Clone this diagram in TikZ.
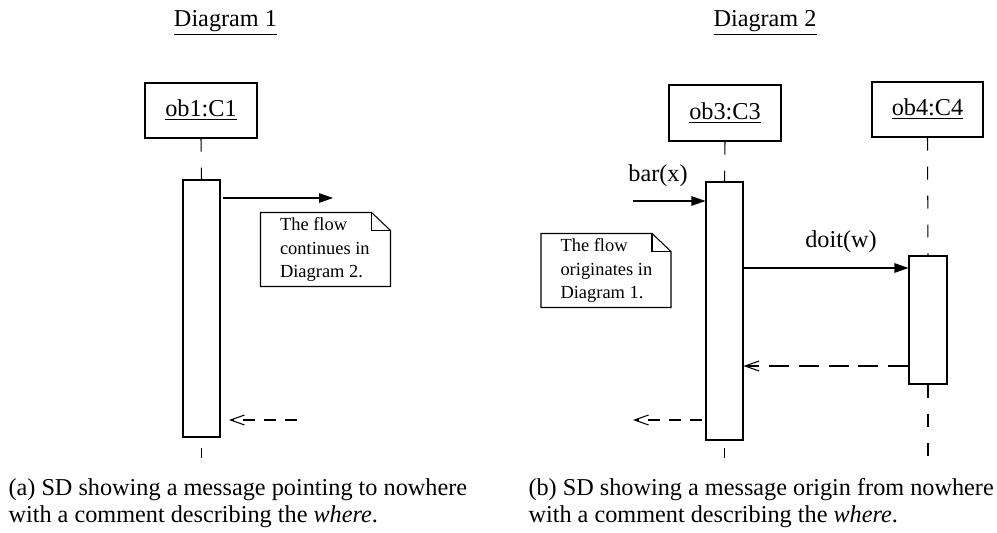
\documentclass[tikz,border=0pt]{standalone}
\usepackage{fontspec}
\setmainfont{Liberation Serif}
\usetikzlibrary{arrows.meta}

\tikzstyle{objet}=[draw, rectangle, minimum width=2.24cm, minimum height=1.1cm, inner sep=0pt]
\tikzstyle{activation}=[draw, rectangle, fill=white, minimum width=0.74cm, inner sep=0pt]
\tikzstyle{note}=[rectangle, minimum width=2.58cm, minimum height=1.46cm, inner sep=0pt]
\tikzstyle{textenote}=[anchor=west, align=left, inner sep=0pt, font=\fontsize{10.5}{13.3}\selectfont]
\tikzstyle{legende}=[anchor=base west, inner sep=0pt, font=\fontsize{13.8}{17}\selectfont]
\tikzstyle{vie}=[dash pattern=on 0.26cm off 0.32cm]
\tikzstyle{message}=[-{Triangle[length=0.28cm,width=0.19cm]}]
\tikzstyle{retour}=[-{Straight Barb[length=0.28cm,width=0.2cm]}, dash pattern=on 0.4cm off 0.2cm]
\tikzstyle{perdu}=[-{Straight Barb[length=0.28cm,width=0.2cm]}, dash pattern=on 0.24cm off 0.18cm]

\begin{document}
\begin{tikzpicture}[
        x=0.02cm, y=-0.02cm, line width=0.6pt,
        every node/.style={font=\fontsize{13.8}{17}\selectfont}
    ]
    \useasboundingbox (0,0) rectangle (997,533);

    % Diagram 1
    \node[anchor=base] (titre1) at (225.5,27) {\underline{Diagram 1}};
    \node[objet] (ob1) at (201,110.5) {\underline{ob1:C1}};
    \node[activation, minimum height=5.14cm] (act1) at (201.5,308.5) {};
    \coordinate (fin1a) at (201.5,448);
    \coordinate (fin1b) at (201.5,458);
    \draw[vie] (ob1.south) -- (act1.north);
    \draw (fin1a) -- (fin1b);

    \coordinate (m1src) at (223,198);
    \coordinate (m1dst) at (333,198);
    \draw[message] (m1src) -- (m1dst);

    \node[note] (note1) at (325.5,249.5) {};
    \node[textenote] (texte1) at ([xshift=0.38cm]note1.west) {The flow\\continues in\\Diagram 2.};
    \draw (note1.south west) -- (note1.north west) -- ([xshift=-0.38cm]note1.north east)
        -- ([yshift=-0.36cm]note1.north east) -- (note1.south east) -- cycle;
    \draw ([xshift=-0.38cm]note1.north east) |- ([yshift=-0.36cm]note1.north east);

    \coordinate (r1src) at (297,420);
    \coordinate (r1dst) at (229,420);
    \draw[perdu] (r1src) -- (r1dst);

    \node[legende] (legA1) at (8,495) {(a) SD showing a message pointing to nowhere};
    \node[legende] (legA2) at (8,522) {with a comment describing the \emph{where}.};

    % Diagram 2
    \node[anchor=base] (titre2) at (765,27) {\underline{Diagram 2}};
    \node[objet, minimum height=1.12cm] (ob3) at (725,113) {\underline{ob3:C3}};
    \node[objet, minimum width=2.22cm] (ob4) at (927.5,109.5) {\underline{ob4:C4}};
    \node[activation, minimum height=5.16cm] (act3) at (724.5,311) {};
    \node[activation, minimum width=0.76cm, minimum height=2.56cm] (act4) at (928,320) {};
    \coordinate (fin3a) at (724.5,448);
    \coordinate (fin3b) at (724.5,458);
    \coordinate (fin4) at (928,462);
    \draw[vie] (ob3.south) -- (act3.north);
    \draw (fin3a) -- (fin3b);
    \draw[vie] (ob4.south) -- (act4.north);
    \draw[vie] (act4.south) -- (fin4);

    \coordinate (barsrc) at (633,201);
    \draw[message] (barsrc) -- (act3.west |- barsrc);
    \node[anchor=base] (barlbl) at (658,182) {bar(x)};

    \coordinate (doit) at (826,268);
    \draw[message] (act3.east |- doit) -- (act4.west |- doit);
    \node[anchor=base] (doitlbl) at (841,248) {doit(w)};

    \coordinate (r4) at (826,366);
    \draw[retour] (act4.west |- r4) -- (act3.east |- r4);

    \node[note] (note2) at (606,270.5) {};
    \node[textenote] (texte2) at ([xshift=0.38cm]note2.west) {The flow\\originates in\\Diagram 1.};
    \draw (note2.south west) -- (note2.north west) -- ([xshift=-0.38cm]note2.north east)
        -- ([yshift=-0.36cm]note2.north east) -- (note2.south east) -- cycle;
    \draw ([xshift=-0.38cm]note2.north east) |- ([yshift=-0.36cm]note2.north east);

    \coordinate (r3src) at (702,420);
    \coordinate (r3dst) at (633,420);
    \draw[perdu] (r3src) -- (r3dst);

    \node[legende] (legB1) at (528,495) {(b) SD showing a message origin from nowhere};
    \node[legende] (legB2) at (528,522) {with a comment describing the \emph{where}.};
\end{tikzpicture}
\end{document}
